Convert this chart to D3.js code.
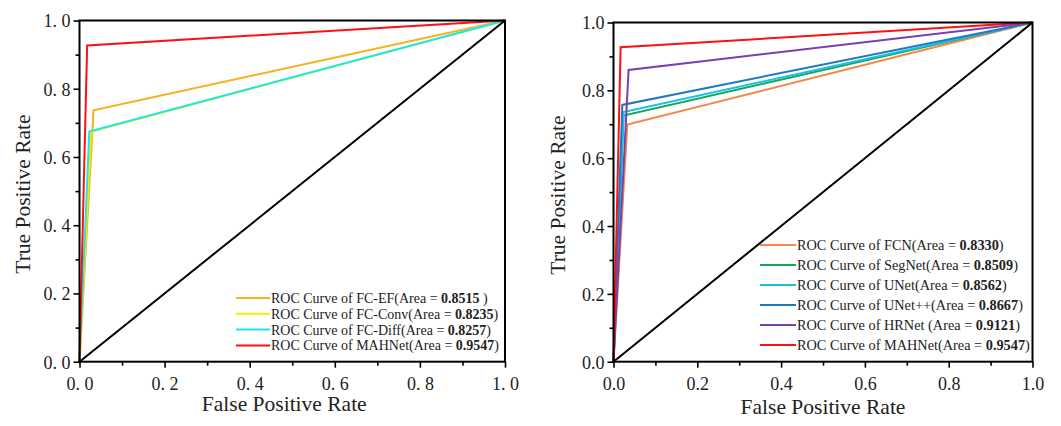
<!DOCTYPE html>
<html>
<head>
<meta charset="utf-8">
<script src="https://cdn.jsdelivr.net/npm/d3@7"></script>
<style>
  body { margin: 0; background: #fff; }
</style>
</head>
<body>
<div id="chart"></div>
<script>
var FONT = "'Liberation Serif', 'Times New Roman', serif";

// ROC points (fpr, tpr), each curve is 0,0 -> corner -> 1,1
var leftNames = ["FC-EF", "FC-Conv", "FC-Diff", "MAHNet"];
var leftFpr = [0.033, 0.027, 0.023, 0.018];
var leftTpr = [0.737, 0.674, 0.6745, 0.927];
var leftArea = ["0.8515 ", "0.8235", "0.8257", "0.9547"];
var leftColors = ["#f5b21c", "#f2f200", "#19e6ef", "#ff1010"];

var rightNames = ["FCN", "SegNet", "UNet", "UNet++", "HRNet ", "MAHNet"];
var rightFpr = [0.033, 0.024, 0.024, 0.021, 0.036, 0.017];
var rightTpr = [0.699, 0.726, 0.736, 0.757, 0.860, 0.927];
var rightArea = ["0.8330", "0.8509", "0.8562", "0.8667", "0.9121", "0.9547"];
var rightColors = ["#f7864a", "#10a860", "#1cc0e4", "#1f78c4", "#7a3fb2", "#ff1010"];

var majorTicks = [0, 0.2, 0.4, 0.6, 0.8, 1.0];
var minorTicks = [0.1, 0.3, 0.5, 0.7, 0.9];

var svg = d3.select("#chart").append("svg")
  .attr("width", 1061)
  .attr("height", 426)
  .style("font-family", FONT);

function drawPanel(opt) {
  var x = d3.scaleLinear().domain([0, 1]).range([opt.x0, opt.x1]);
  var y = d3.scaleLinear().domain([0, 1]).range([opt.y0, opt.y1]);
  var g = svg.append("g");

  // curves
  var line = d3.line().x(d => x(d[0])).y(d => y(d[1]));
  opt.names.forEach((n, i) => {
    g.append("path")
      .datum([[0, 0], [opt.fpr[i], opt.tpr[i]], [1, 1]])
      .attr("d", line)
      .attr("fill", "none")
      .attr("stroke", opt.colors[i])
      .attr("stroke-width", 2);
  });

  // diagonal
  g.append("path")
    .datum([[0, 0], [1, 1]])
    .attr("d", line)
    .attr("stroke", "#000")
    .attr("stroke-width", 2);

  // frame
  g.append("rect")
    .attr("x", x(0)).attr("y", y(1))
    .attr("width", x(1) - x(0)).attr("height", y(0) - y(1))
    .attr("fill", "none").attr("stroke", "#000").attr("stroke-width", 2);

  // axes
  var fmt = opt.fmt;
  var xa = g.append("g").attr("transform", "translate(0," + y(0) + ")")
    .call(d3.axisBottom(x).tickValues(majorTicks).tickFormat(fmt).tickSize(6).tickSizeOuter(0));
  g.append("g").attr("transform", "translate(0," + y(0) + ")")
    .call(d3.axisBottom(x).tickValues(minorTicks).tickFormat("").tickSize(4).tickSizeOuter(0));
  var ya = g.append("g").attr("transform", "translate(" + x(0) + ",0)")
    .call(d3.axisLeft(y).tickValues(majorTicks).tickFormat(fmt).tickSize(6).tickSizeOuter(0));
  g.append("g").attr("transform", "translate(" + x(0) + ",0)")
    .call(d3.axisLeft(y).tickValues(minorTicks).tickFormat("").tickSize(4).tickSizeOuter(0));
  g.selectAll(".domain").remove();
  g.selectAll(".tick line").attr("stroke", "#000").attr("stroke-width", 1.6);
  xa.selectAll("text").attr("font-size", 18).attr("dy", "1.05em").attr("font-family", FONT).attr("fill", "#222");
  ya.selectAll("text").attr("font-size", 18).attr("dy", "0.35em").attr("font-family", FONT).attr("fill", "#222");

  // axis titles
  g.append("text")
    .attr("x", (x(0) + x(1)) / 2 + opt.xTitleDx).attr("y", opt.xTitleY)
    .attr("text-anchor", "middle").attr("font-size", 21.5).attr("fill", "#222")
    .attr("font-family", FONT)
    .text("False Positive Rate");
  g.append("text")
    .attr("transform", "translate(" + opt.yTitleX + "," + ((y(0) + y(1)) / 2 + 3) + ") rotate(-90)")
    .attr("text-anchor", "middle").attr("font-size", 21.5).attr("fill", "#222")
    .attr("font-family", FONT)
    .text("True Positive Rate");

  // legend
  var lg = g.append("g").attr("transform", "translate(" + opt.legX + "," + opt.legY + ")");
  opt.names.forEach((n, i) => {
    var ry = i * opt.legStep;
    lg.append("line")
      .attr("x1", 0).attr("x2", opt.legLine)
      .attr("y1", ry).attr("y2", ry)
      .attr("stroke", opt.colors[i]).attr("stroke-width", 2);
    var t = lg.append("text")
      .attr("x", opt.legLine + 1).attr("y", ry).attr("dy", "0.35em")
      .attr("font-size", opt.legFont).attr("fill", "#222")
      .attr("font-family", FONT);
    t.append("tspan").text("ROC Curve of " + n + "(Area = ");
    t.append("tspan").attr("font-weight", "bold").text(opt.area[i].trim());
    t.append("tspan").text(opt.area[i].endsWith(" ") ? " )" : ")");
  });
}

drawPanel({
  x0: 79.5, x1: 505, y0: 361.7, y1: 20.5,
  names: leftNames, fpr: leftFpr, tpr: leftTpr, area: leftArea, colors: leftColors,
  fmt: d => d.toFixed(1).replace(".", ". "),
  xTitleY: 411, xTitleDx: -8, yTitleX: 30,
  legX: 236, legY: 298, legStep: 15.8, legLine: 34, legFont: 14
});

drawPanel({
  x0: 613.5, x1: 1032.5, y0: 361.7, y1: 22.5,
  names: rightNames, fpr: rightFpr, tpr: rightTpr, area: rightArea, colors: rightColors,
  fmt: d => d.toFixed(1),
  xTitleY: 414, xTitleDx: 0, yTitleX: 565,
  legX: 760, legY: 245, legStep: 20, legLine: 36, legFont: 14.3
});
</script>
</body>
</html>
